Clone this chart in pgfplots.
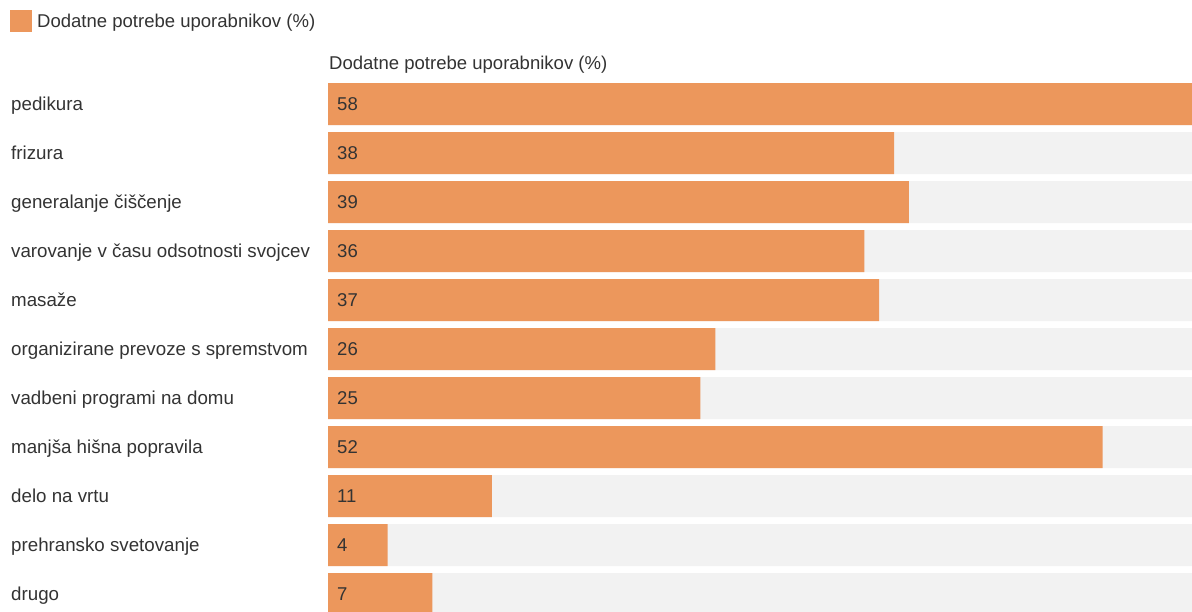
\documentclass[border=0pt]{standalone}
\usepackage{pgfplots}
\usepackage{pgfplotstable}
\usepackage{fontspec}
\setmainfont{Liberation Sans}
\pgfplotsset{compat=1.18}

\definecolor{barorange}{HTML}{EC975C}
\definecolor{bggray}{HTML}{F2F2F2}
\definecolor{txt}{HTML}{333333}

\pgfplotstableread[col sep=comma]{
row,value
0,58
1,38
2,39
3,36
4,37
5,26
6,25
7,52
8,11
9,4
10,7
}\needs

\begin{document}
\begin{tikzpicture}
\path[use as bounding box] (0,0) rectangle (1192bp,612bp);
\begin{axis}[
  at={(328bp,0bp)}, anchor=south west,
  width=864bp, height=529bp, scale only axis,
  xmin=0, xmax=58,
  ymin=-0.42857, ymax=10.367,
  y dir=reverse,
  axis line style={draw=none},
  tick style={draw=none},
  xtick=\empty,
  ytick={0,...,10},
  yticklabels={pedikura,frizura,generalanje čiščenje,varovanje v času odsotnosti svojcev,masaže,organizirane prevoze s spremstvom,vadbeni programi na domu,manjša hišna popravila,delo na vrtu,prehransko svetovanje,drugo},
  yticklabel style={anchor=west, xshift=-317bp, inner sep=0pt, text=txt,
    text height=13.5bp, text depth=0pt,
    font=\fontsize{18.8}{22}\selectfont},
  /pgf/number format/assume math mode=true,
  every axis title shift=0pt,
  title={Dodatne potrebe uporabnikov (\%)},
  title style={at={(axis description cs:0,1.0378)}, anchor=west, inner sep=0pt,
    xshift=1bp, text=txt, text height=13.5bp, text depth=0pt,
    font=\fontsize{18.6}{22}\selectfont},
  legend style={at={(axis description cs:-0.3681,1.138)}, anchor=north west,
    draw=none, fill=none, inner sep=0pt, text=txt,
    font=\fontsize{18.6}{22}\selectfont,
    nodes={inner xsep=5bp}},
  legend image code/.code={\fill[barorange] (0bp,-11bp) rectangle (22bp,11bp);},
  legend cell align=left,
]
\addplot[xbar, bar width=42bp, bar shift=0pt, fill=bggray, draw=none, forget plot]
  table[x expr=58, y=row] {\needs};
\addplot[xbar, bar width=42bp, bar shift=0pt, fill=barorange, draw=none]
  table[x=value, y=row] {\needs};
\addlegendentry{Dodatne potrebe uporabnikov (\%)}
\addplot[only marks, mark=none, forget plot,
  nodes near coords,
  every node near coord/.append style={anchor=west, inner sep=0pt, xshift=9bp,
    text=txt, text height=13.5bp, text depth=0pt,
    font=\fontsize{18.6}{22}\selectfont},
  point meta=explicit]
  table[x expr=0, y=row, meta=value] {\needs};
\end{axis}
\end{tikzpicture}
\end{document}
